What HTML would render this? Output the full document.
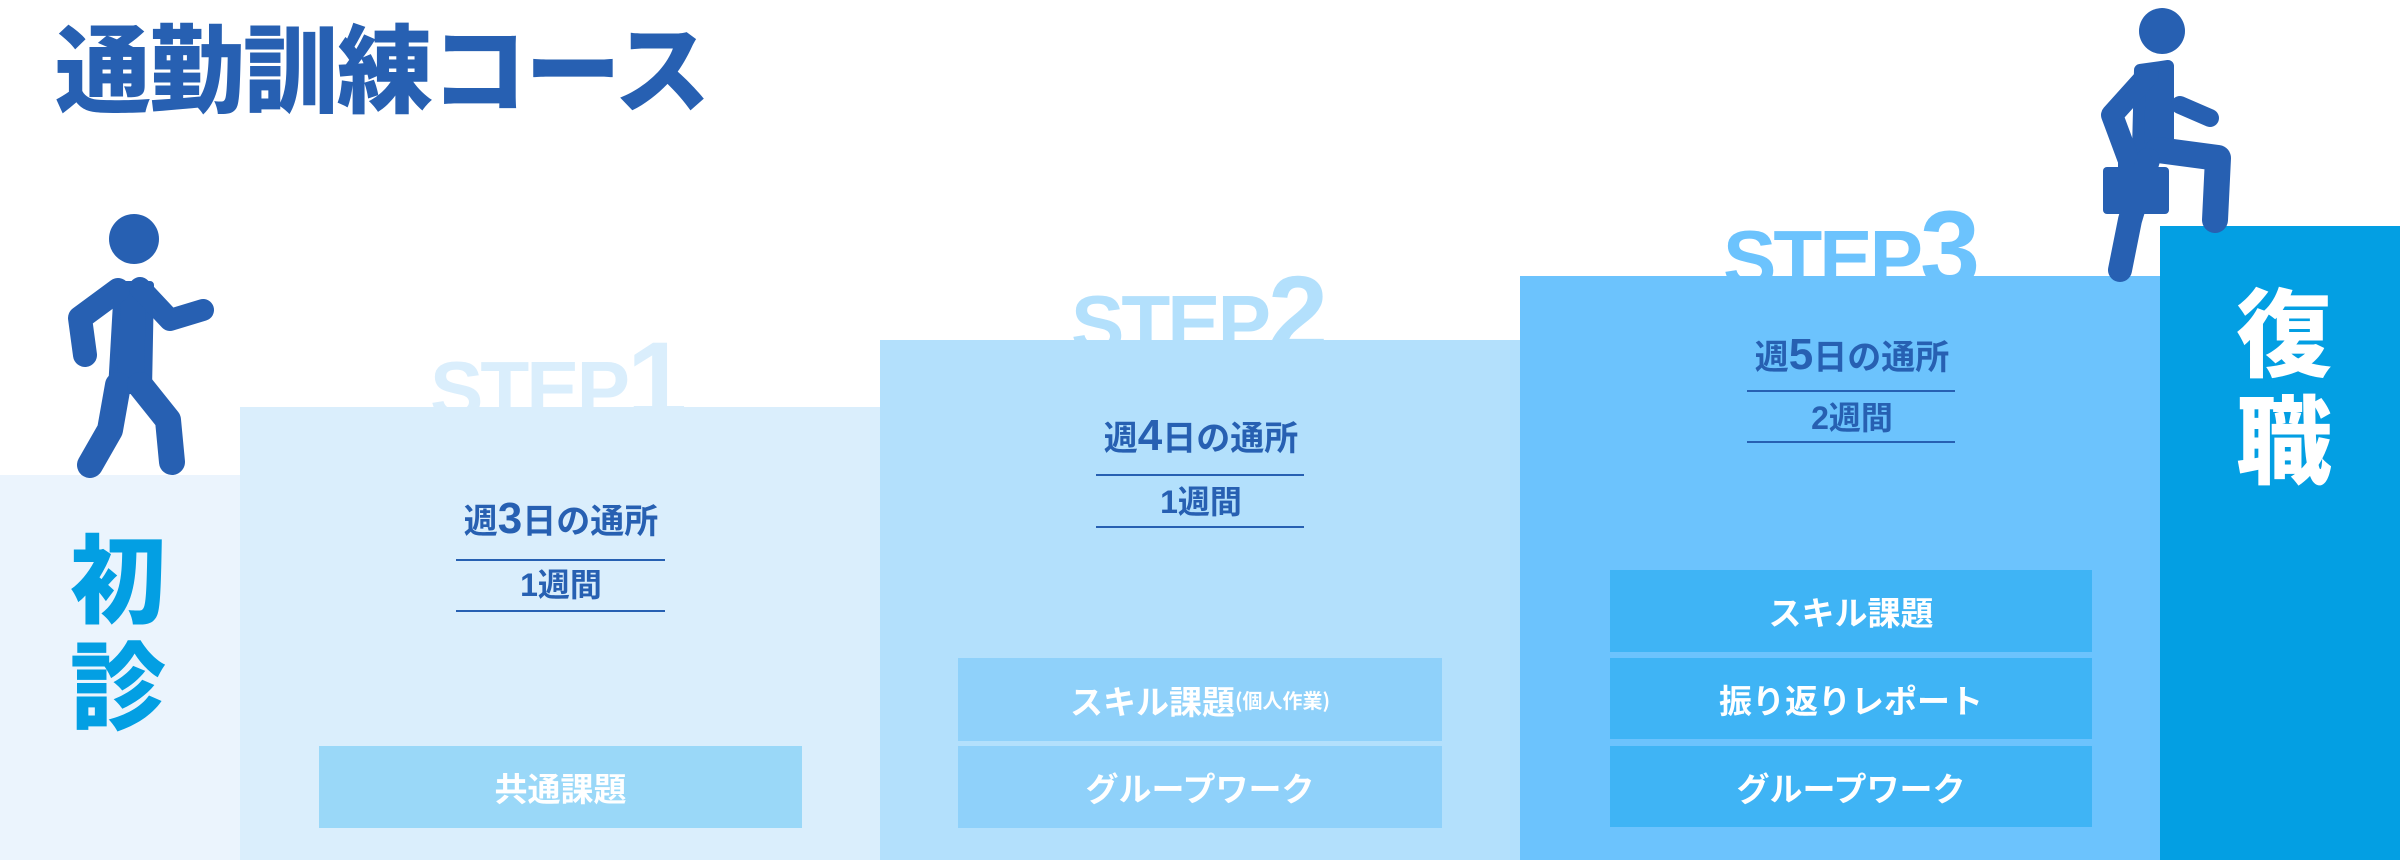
<!DOCTYPE html>
<html><head><meta charset="utf-8"><style>
*{margin:0;padding:0;box-sizing:border-box}
body{width:2400px;height:860px;position:relative;overflow:hidden;background:#fff;font-family:"Liberation Sans","Noto Sans CJK JP",sans-serif}
.a{position:absolute}
.step{position:absolute;font-family:"Liberation Sans",sans-serif;font-weight:bold;line-height:1;white-space:nowrap;letter-spacing:-3px}
.step span{font-size:80px}.step b{font-size:108px;letter-spacing:0}
.wk{position:absolute;text-align:center;color:#2760b2;font-weight:bold;font-size:34px;line-height:1;white-space:nowrap}
.wk b{font-size:44px}
.ln{position:absolute;height:2px;background:#2760b2}
.chip{position:absolute;color:#fff;font-weight:bold;font-size:33px;display:flex;align-items:center;justify-content:center;font-family:"Noto Sans CJK JP",sans-serif}
.big{position:absolute;font-weight:900;font-size:96px;line-height:107px;font-family:"Noto Sans CJK JP",sans-serif;width:110px;text-align:center}
</style></head><body>
<div class="a" style="left:55px;top:8px;font-size:96px;font-weight:900;color:#2760b2;font-family:'Noto Sans CJK JP',sans-serif;line-height:112px;letter-spacing:-2px">通勤訓練コース</div>

<div class="step" style="left:430px;top:326px;color:#daeefc"><span>STEP</span><b>1</b></div>
<div class="step" style="left:1071px;top:260px;color:#b3e0fc"><span>STEP</span><b>2</b></div>
<div class="step" style="left:1723px;top:195px;color:#6cc3fd"><span>STEP</span><b>3</b></div>

<div class="a" style="left:0;top:475px;width:240px;height:385px;background:#ebf4fd"></div>
<div class="a" style="left:240px;top:407px;width:640px;height:453px;background:#daeefc"></div>
<div class="a" style="left:880px;top:340px;width:640px;height:520px;background:#b3e0fc"></div>
<div class="a" style="left:1520px;top:276px;width:640px;height:584px;background:#6cc3fd"></div>
<div class="a" style="left:2160px;top:226px;width:240px;height:634px;background:#039fe3"></div>

<div class="big" style="left:63px;top:520px;color:#039fe3">初<br>診</div>
<div class="big" style="left:2229px;top:274px;color:#fff">復<br>職</div>

<div class="wk" style="left:456px;width:210px;top:497px">週<b>3</b>日の通所</div>
<div class="ln" style="left:456px;width:209px;top:559px"></div>
<div class="wk" style="left:456px;width:210px;top:569px;font-size:32px">1週間</div>
<div class="ln" style="left:456px;width:209px;top:610px"></div>

<div class="wk" style="left:1096px;width:210px;top:414px">週<b>4</b>日の通所</div>
<div class="ln" style="left:1096px;width:208px;top:474px"></div>
<div class="wk" style="left:1096px;width:210px;top:486px;font-size:32px">1週間</div>
<div class="ln" style="left:1096px;width:208px;top:526px"></div>

<div class="wk" style="left:1747px;width:210px;top:333px">週<b>5</b>日の通所</div>
<div class="ln" style="left:1747px;width:208px;top:390px"></div>
<div class="wk" style="left:1747px;width:210px;top:402px;font-size:32px">2週間</div>
<div class="ln" style="left:1747px;width:208px;top:441px"></div>

<div class="chip" style="left:319px;top:746px;width:483px;height:82px;background:#9ad8f8">共通課題</div>
<div class="chip" style="left:958px;top:658px;width:484px;height:83px;background:#8fd1fa">スキル課題<span style="font-size:20px">(個人作業)</span></div>
<div class="chip" style="left:958px;top:746px;width:484px;height:82px;background:#8fd1fa">グループワーク</div>
<div class="chip" style="left:1610px;top:570px;width:482px;height:82px;background:#3fb4f5">スキル課題</div>
<div class="chip" style="left:1610px;top:658px;width:482px;height:81px;background:#3fb4f5">振り返りレポート</div>
<div class="chip" style="left:1610px;top:746px;width:482px;height:81px;background:#3fb4f5">グループワーク</div>

<svg class="a" style="left:0;top:0" width="2400" height="860">
<g fill="#2760b2" stroke="#2760b2" stroke-linecap="round" stroke-linejoin="round" fill-rule="nonzero">
<circle cx="134" cy="239" r="25" stroke="none"/>
<path d="M118 285 L150 285 L148 390 L112 390 Z" stroke-width="8"/>
<polyline fill="none" stroke-width="24" points="118,290 80,318 85,355"/>
<polyline fill="none" stroke-width="22" points="140,288 170,320 203,310"/>
<polyline fill="none" stroke-width="26" points="118,385 110,430 90,465"/>
<polyline fill="none" stroke-width="26" points="140,385 168,420 172,462"/>

<circle cx="2162" cy="31" r="23" stroke="none"/>
<path d="M2140 70 L2168 66 L2168 150 L2138 150 Z" stroke-width="12"/>
<polyline fill="none" stroke-width="22" points="2148,75 2112,115 2128,158"/>
<polyline fill="none" stroke-width="18" points="2180,105 2210,118"/>
<polyline fill="none" stroke-width="26" points="2158,150 2218,158 2215,220"/>
<polyline fill="none" stroke-width="24" points="2148,160 2130,220 2120,270"/>
<rect x="2103" y="167" width="66" height="47" rx="4" stroke="none"/>
<rect x="2120" y="157" width="30" height="12" fill="none" stroke-width="4"/>
</g>
</svg>
</body></html>
